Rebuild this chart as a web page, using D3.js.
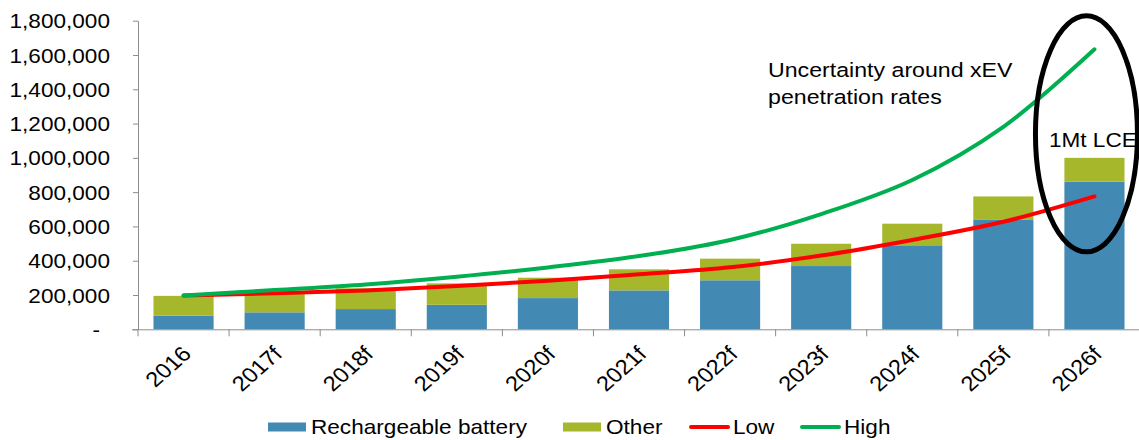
<!DOCTYPE html>
<html>
<head>
<meta charset="utf-8">
<script src="https://cdn.jsdelivr.net/npm/d3@7"></script>
<style>
  body { margin: 0; background: #fff; }
  svg text { font-family: "Liberation Sans", Arial, sans-serif; fill: #000; }
</style>
</head>
<body>
<div id="chart"></div>
<script>
// Data
var years = ["2016", "2017f", "2018f", "2019f", "2020f", "2021f", "2022f", "2023f", "2024f", "2025f", "2026f"];
var rechargeable = [80000, 99000, 118000, 143000, 182000, 227000, 286000, 369000, 490000, 641000, 861000];
var other = [115000, 111000, 121000, 125000, 119000, 123000, 126000, 130000, 126000, 134000, 139000];
var low = [197000, 210000, 227000, 252000, 283000, 321000, 362000, 430000, 521000, 627000, 775000];
var high = [197000, 229000, 262000, 307000, 361000, 427000, 521000, 672000, 871000, 1181000, 1633000];
var yTicks = [0, 200000, 400000, 600000, 800000, 1000000, 1200000, 1400000, 1600000, 1800000];

var svgWidth = 1139;
var svgHeight = 440;
var margin = { top: 20.7, right: 0, bottom: 110.7, left: 138 };
var width = 1002;
var height = svgHeight - margin.top - margin.bottom;

// text in the picture is a bit wider than plain Arial
var SX = 1.13;

var svg = d3.select("#chart").append("svg")
  .attr("width", svgWidth)
  .attr("height", svgHeight);

var chartGroup = svg.append("g")
  .attr("transform", `translate(${margin.left}, ${margin.top})`);

// Scales
var x = d3.scaleBand()
  .domain(years)
  .range([0, width])
  .paddingInner(0.34)
  .paddingOuter(0.17);

var y = d3.scaleLinear()
  .domain([0, 1800000])
  .range([height, 0]);

var axisColor = "#8c8c8c";

// Stacked bars
var rows = years.map((yr, i) => ({ year: yr, rechargeable: rechargeable[i], other: other[i] }));
var stack = d3.stack().keys(["rechargeable", "other"])(rows);
var colors = { rechargeable: "#4289b4", other: "#a6b72c" };

chartGroup.selectAll(".layer")
  .data(stack)
  .enter()
  .append("g")
  .attr("fill", d => colors[d.key])
  .selectAll("rect")
  .data(d => d)
  .enter()
  .append("rect")
  .attr("x", d => x(d.data.year))
  .attr("y", d => y(d[1]))
  .attr("width", x.bandwidth())
  .attr("height", d => y(d[0]) - y(d[1]));

// Y axis
var leftAxis = d3.axisLeft(y)
  .tickValues(yTicks)
  .tickSize(5)
  .tickSizeOuter(0)
  .tickFormat(d => d === 0 ? "-" : d3.format(",")(d));

var yAxisG = chartGroup.append("g").call(leftAxis);
yAxisG.select(".domain").attr("stroke", axisColor);
yAxisG.selectAll(".tick line").attr("stroke", axisColor);
yAxisG.selectAll(".tick text")
  .attr("x", 0)
  .attr("dy", "0.35em")
  .attr("font-size", 20)
  .attr("transform", d => `translate(${d === 0 ? -38 : -28}, 0) scale(${SX}, 1)`);

// X axis: baseline, ticks at category boundaries, rotated labels
var bottomAxis = d3.axisBottom(x).tickSize(0).tickSizeOuter(0);
var xAxisG = chartGroup.append("g")
  .attr("transform", `translate(0, ${height})`)
  .call(bottomAxis);
xAxisG.select(".domain").attr("stroke", axisColor).attr("d", `M-6,0.5H${width}`);
xAxisG.selectAll(".tick text")
  .attr("x", 0)
  .attr("y", 0)
  .attr("dy", 0)
  .attr("font-size", 21)
  .style("text-anchor", "end")
  .attr("transform", `translate(9, 26) scale(${SX}, 1) rotate(-45)`);

xAxisG.selectAll(".bound")
  .data(d3.range(years.length + 1))
  .enter()
  .append("line")
  .attr("x1", i => i * x.step())
  .attr("x2", i => i * x.step())
  .attr("y1", 0)
  .attr("y2", 7)
  .attr("stroke", axisColor);

// Lines
var line = d3.line()
  .x((d, i) => x(years[i]) + x.bandwidth() / 2)
  .y(d => y(d))
  .curve(d3.curveCatmullRom);

chartGroup.append("path")
  .datum(low)
  .attr("fill", "none")
  .attr("stroke", "#ff0000")
  .attr("stroke-width", 4)
  .attr("stroke-linecap", "round")
  .attr("d", line);

chartGroup.append("path")
  .datum(high)
  .attr("fill", "none")
  .attr("stroke", "#00b050")
  .attr("stroke-width", 4)
  .attr("stroke-linecap", "round")
  .attr("d", line);

// Annotations
var last = years[years.length - 1];
chartGroup.append("ellipse")
  .attr("cx", x(last) + x.bandwidth() / 2 - 8)
  .attr("cy", y(1140000))
  .attr("rx", 51)
  .attr("ry", 118)
  .attr("fill", "none")
  .attr("stroke", "#000")
  .attr("stroke-width", 5);

svg.append("clipPath").attr("id", "clipRight")
  .append("rect").attr("x", -200).attr("y", -200).attr("width", 1134).attr("height", 600);

chartGroup.append("text")
  .attr("clip-path", "url(#clipRight)")
  .attr("font-size", 20)
  .attr("transform", `translate(${x(last) - 15.5}, ${y(1000000) - 11}) scale(${SX}, 1)`)
  .text("1Mt LCE");

var note = svg.append("text")
  .attr("font-size", 20.5)
  .attr("transform", `translate(768, 77) scale(${SX}, 1)`);
note.append("tspan").attr("x", 0).attr("y", 0).text("Uncertainty around xEV");
note.append("tspan").attr("x", 0).attr("y", 26.6).text("penetration rates");

// Legend
var legendItems = [
  { label: "Rechargeable battery", type: "rect", color: colors.rechargeable, x: 268 },
  { label: "Other", type: "rect", color: colors.other, x: 563 },
  { label: "Low", type: "line", color: "#ff0000", x: 690 },
  { label: "High", type: "line", color: "#00b050", x: 801 }
];

var legend = svg.append("g");
var items = legend.selectAll(".item")
  .data(legendItems)
  .enter()
  .append("g")
  .attr("transform", d => `translate(${d.x}, 427)`);

items.filter(d => d.type === "rect")
  .append("rect")
  .attr("x", 0).attr("y", -4.5)
  .attr("width", 38).attr("height", 9)
  .attr("fill", d => d.color);

items.filter(d => d.type === "line")
  .append("line")
  .attr("x1", 1).attr("x2", 38)
  .attr("y1", 0).attr("y2", 0)
  .attr("stroke", d => d.color)
  .attr("stroke-width", 4)
  .attr("stroke-linecap", "round");

items.append("text")
  .attr("font-size", 20)
  .attr("transform", `translate(43, 6.5) scale(${SX}, 1)`)
  .text(d => d.label);
</script>
</body>
</html>
